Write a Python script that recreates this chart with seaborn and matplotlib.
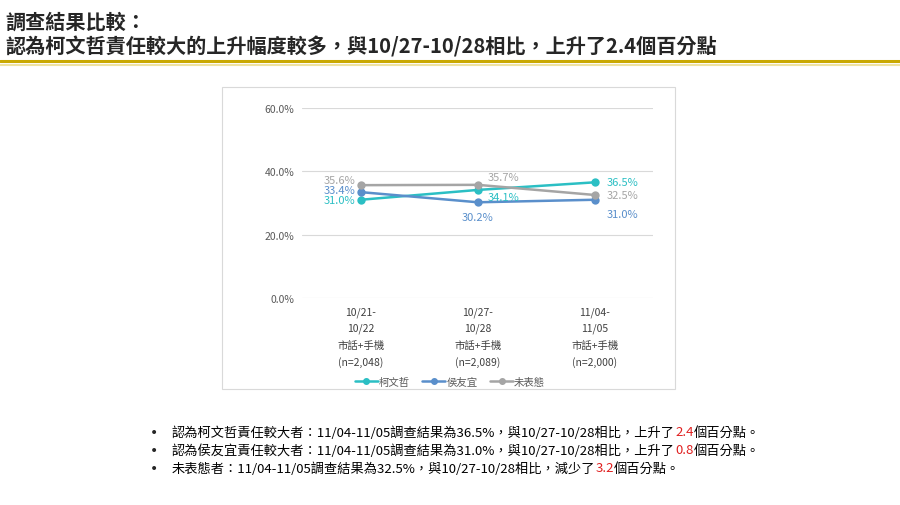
import seaborn as sns
import matplotlib.pyplot as plt
import pandas as pd
from matplotlib.patches import Rectangle
from matplotlib.lines import Line2D

sns.set_theme(style="white")
plt.rcParams['font.family'] = ['Noto Sans CJK TC', 'DejaVu Sans']

# Data
periods = ['10/21-\n10/22\n市話+手機\n(n=2,048)', '10/27-\n10/28\n市話+手機\n(n=2,089)', '11/04-\n11/05\n市話+手機\n(n=2,000)']
series = ['柯文哲', '侯友宜', '未表態']
ko = [31.0, 34.1, 36.5]
hou = [33.4, 30.2, 31.0]
undecided = [35.6, 35.7, 32.5]
colors = ['#2BBFC4', '#5A8FCB', '#A5A5A5']

df = pd.DataFrame({'x': list(range(3)) * 3,
                   'value': ko + hou + undecided,
                   'series': [s for s in series for _ in range(3)]})

fig = plt.figure(figsize=(9, 5.06), dpi=100)

# Title
fig.text(0.006, 0.957, '調查結果比較：', fontsize=14.5, fontweight='bold', va='center')
fig.text(0.006, 0.908, '認為柯文哲責任較大的上升幅度較多，與10/27-10/28相比，上升了2.4個百分點',
         fontsize=14.5, fontweight='bold', va='center')
fig.add_artist(Line2D([0, 1], [0.877, 0.877], color='#C9A800', lw=2.2, transform=fig.transFigure))
fig.add_artist(Line2D([0, 1], [0.870, 0.870], color='#EFE2A0', lw=1.5, transform=fig.transFigure))

# Chart frame
fig.add_artist(Rectangle((222 / 900, 1 - 390 / 506), 453 / 900, 302 / 506, transform=fig.transFigure,
                         fill=False, edgecolor='#D9D9D9', lw=0.8))

ax = fig.add_axes([0.336, 0.409, 0.39, 0.376])
sns.lineplot(data=df, x='x', y='value', hue='series', palette=colors, marker='o',
             markersize=6, markeredgewidth=0, lw=1.8, ax=ax, legend=False)
ax.set_xlim(-0.5, 2.5)
ax.set_ylim(0, 60)
ax.set_yticks([0, 20, 40, 60])
ax.set_yticklabels([f'{v:.1f}%' for v in [0, 20, 40, 60]], fontsize=7.5, color='#595959')
ax.set_xticks(range(3))
ax.set_xticklabels(periods, fontsize=7.5, color='#404040', linespacing=1.75)
ax.tick_params(length=0, pad=6)
ax.set_xlabel('')
ax.set_ylabel('')
ax.grid(axis='y', color='#D9D9D9', lw=0.8)
for s in ax.spines.values():
    s.set_visible(False)

# Data labels
lab = dict(fontsize=8)
vals = [ko, hou, undecided]
offsets = [
    [(-0.3, 31.0, 'right'), (0.08, 32.0, 'left'), (0.1, 36.5, 'left')],
    [(-0.3, 34.0, 'right'), (0.0, 25.5, 'center'), (0.1, 26.5, 'left')],
    [(-0.3, 37.2, 'right'), (0.08, 38.2, 'left'), (0.1, 32.5, 'left')],
]
for vs, offs, c in zip(vals, offsets, colors):
    for i, (v, (dx, y, ha)) in enumerate(zip(vs, offs)):
        ax.text(i + dx if ha != 'right' else i - 0.05, y, f'{v:.1f}%', color=c, ha=ha, va='center', **lab)

# Legend
handles = [Line2D([], [], color=c, marker='o', markersize=4, lw=1.8) for c in colors]
fig.legend(handles, series, loc='center', bbox_to_anchor=(0.5, 1 - 383 / 506), ncol=3, frameon=False,
           fontsize=7.5, labelcolor='#595959', handlelength=2.2, handletextpad=0.1, columnspacing=1.2)

# Bullet notes with red numbers
notes = [
    ['認為柯文哲責任較大者：11/04-11/05調查結果為36.5%，與10/27-10/28相比，上升了', '2.4', '個百分點。'],
    ['認為侯友宜責任較大者：11/04-11/05調查結果為31.0%，與10/27-10/28相比，上升了', '0.8', '個百分點。'],
    ['未表態者：11/04-11/05調查結果為32.5%，與10/27-10/28相比，減少了', '3.2', '個百分點。'],
]
renderer = fig.canvas.get_renderer()
for k, parts in enumerate(notes):
    y = 1 - (433 + 18 * k) / 506
    fig.text(150 / 900, y, '•', fontsize=10, va='center', family='DejaVu Sans')
    x = 172 / 900
    for j, p in enumerate(parts):
        t = fig.text(x, y, p, fontsize=9.5, va='center', color='#E02020' if j == 1 else 'black')
        bb = t.get_window_extent(renderer)
        x += bb.width / fig.bbox.width

fig.savefig('out.png', dpi=100)
